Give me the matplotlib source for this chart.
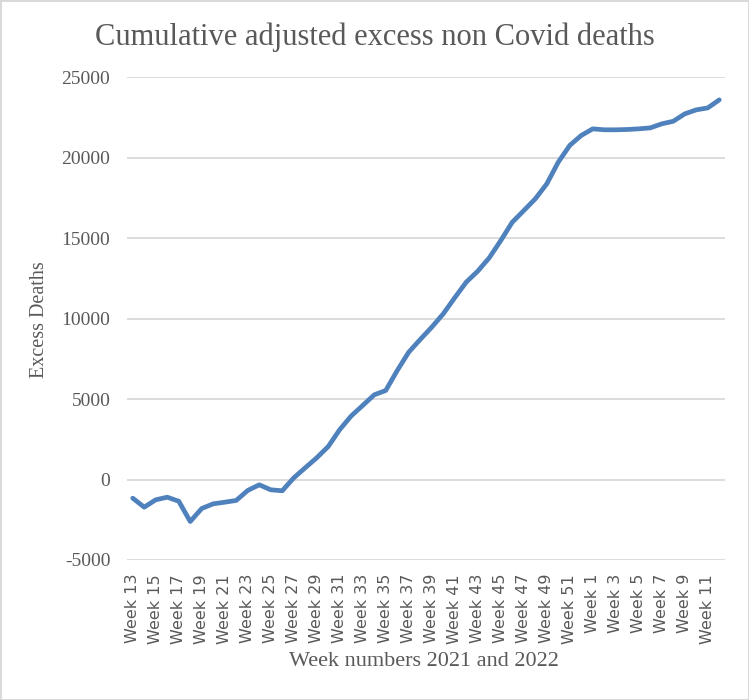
import matplotlib as mpl
import matplotlib.pyplot as plt
import numpy as np

mpl.rcParams['font.family'] = ['Liberation Serif', 'DejaVu Serif']
mpl.rcParams['axes.unicode_minus'] = False

# weeks 13-52 of 2021 then weeks 1-12 of 2022
weeks = ["Week %d" % w for w in range(13, 53)] + ["Week %d" % w for w in range(1, 13)]

excess = [
    -1160, -1720, -1260, -1100, -1350, -2610, -1800, -1510, -1410, -1300,
    -680, -330, -640, -700, 100, 730, 1350, 2050, 3100, 3950,
    4600, 5260, 5530, 6770, 7910, 8700, 9460, 10290, 11290, 12260,
    12940, 13770, 14840, 15980, 16700, 17430, 18360, 19710, 20750, 21370,
    21780, 21720, 21720, 21740, 21780, 21840, 22090, 22250, 22710, 22960,
    23080, 23580,
]

grey = '#595959'

fig = plt.figure(figsize=(7.49, 7.0), dpi=100)
fig.patch.set_edgecolor('#d9d9d9')
fig.patch.set_linewidth(2)

ax = fig.add_axes([127/749, 140/700, 598/749, 483/700])
x = np.arange(len(weeks))
ax.plot(x, excess, color='#4f81bd', lw=3.4, solid_capstyle='round', solid_joinstyle='round')

ax.set_xlim(-0.5, len(weeks) - 0.5)
ax.set_ylim(-5000, 25000)
ax.set_yticks(range(-5000, 25001, 5000))
ax.grid(axis='y', color='#d9d9d9', lw=1.3)
ax.set_axisbelow(True)
for s in ax.spines.values():
    s.set_visible(False)

ax.set_xticks(x[::2])
ax.set_xticklabels(weeks[::2], rotation=90, family=['DejaVu Sans'], fontsize=11.5, color=grey)
ax.tick_params(axis='x', length=0, pad=10)
ax.tick_params(axis='y', length=0, pad=12, labelsize=14, labelcolor=grey)

fig.text(375/749, 1 - 37/700, 'Cumulative adjusted excess non Covid deaths',
         ha='center', va='center', fontsize=22, color=grey)
fig.text(424/749, 1 - 661/700, 'Week numbers 2021 and 2022',
         ha='center', va='center', fontsize=16, color=grey)
fig.text(40/749, 1 - 320/700, 'Excess Deaths', rotation=90,
         ha='center', va='center', fontsize=14.5, color=grey)

fig.savefig('out.png', dpi=100)
